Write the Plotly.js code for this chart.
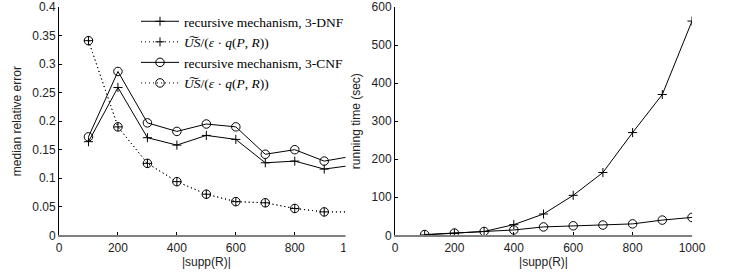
<!DOCTYPE html>
<html>
<head>
<meta charset="utf-8">
<script src="https://cdn.plot.ly/plotly-3.0.1.min.js"></script>
<style>html,body{margin:0;padding:0;background:#fff;}#chart{width:733px;height:275px;}</style>
</head>
<body>
<div id="chart"></div>
<script>
// Data
var suppR = [100, 200, 300, 400, 500, 600, 700, 800, 900, 1000];
var errRecursiveDNF = [0.164, 0.259, 0.171, 0.158, 0.175, 0.168, 0.127, 0.130, 0.116, 0.123];
var errUSDNF = [0.341, 0.190, 0.126, 0.094, 0.072, 0.059, 0.057, 0.047, 0.041, 0.041];
var errRecursiveCNF = [0.1725, 0.287, 0.197, 0.182, 0.195, 0.190, 0.142, 0.150, 0.130, 0.139];
var errUSCNF = [0.341, 0.190, 0.126, 0.094, 0.072, 0.059, 0.057, 0.047, 0.041, 0.041];
var timeDNF = [1, 5, 10, 28, 56, 105, 165, 270, 370, 563];
var timeCNF = [2, 6, 10, 14, 22, 25, 27, 30, 40, 47];
var xTicks = [0, 200, 400, 600, 800, 1000];
var errTicks = [0, 0.05, 0.1, 0.15, 0.2, 0.25, 0.3, 0.35, 0.4];
var errTickText = ['0', '0.05', '0.1', '0.15', '0.2', '0.25', '0.3', '0.35', '0.4'];
var timeTicks = [0, 100, 200, 300, 400, 500, 600];

var usLabel = '<i>U\u0360S</i>/(<i>\u03b5</i> \u00b7 <i>q</i>(<i>P</i>, <i>R</i>))';

function tr(x, y, name, dash, sym, xa, ya, showlegend) {
  return {
    x: x, y: y, name: name, type: 'scatter', mode: 'lines+markers',
    xaxis: xa, yaxis: ya, showlegend: showlegend, cliponaxis: true,
    line: {color: '#000', width: 1, dash: dash},
    marker: {symbol: sym, size: sym === 'circle-open' ? 8.5 : 6.5, color: '#000', line: {color: '#000', width: 1}}
  };
}

var DOT = '1px,3px';
var data = [
  tr(suppR, errRecursiveDNF, 'recursive mechanism, 3-DNF', 'solid', 'cross-thin-open', 'x', 'y', true),
  tr(suppR, errUSDNF, usLabel, DOT, 'cross-thin-open', 'x', 'y', true),
  tr(suppR, errRecursiveCNF, 'recursive mechanism, 3-CNF', 'solid', 'circle-open', 'x', 'y', true),
  tr(suppR, errUSCNF, usLabel, DOT, 'circle-open', 'x', 'y', true),
  tr(suppR, timeDNF, 'DNF time', 'solid', 'cross-thin-open', 'x2', 'y2', false),
  tr(suppR, timeCNF, 'CNF time', 'solid', 'circle-open', 'x2', 'y2', false)
];

var tickFont = {family: 'Liberation Sans, Arial, sans-serif', size: 12, color: '#222'};
function xax(domain, anchor) {
  return {
    domain: domain, anchor: anchor, range: [0, 1000], tickvals: xTicks,
    ticks: 'inside', ticklen: 3, tickcolor: '#000', tickwidth: 1,
    showline: true, linecolor: '#808080', linewidth: 2,
    showgrid: false, zeroline: false, tickfont: tickFont, ticklabeloverflow: 'allow',
    title: {text: '|supp(R)|', font: tickFont, standoff: 0}
  };
}
function yax(anchor, range, tickvals, ticktext, title) {
  var a = {
    domain: [1 - 235.3 / 275, 1 - 7 / 275], anchor: anchor, range: range, tickvals: tickvals,
    ticks: 'inside', ticklen: 3, tickcolor: '#000',
    showline: true, linecolor: '#000', linewidth: 1,
    showgrid: false, zeroline: false, tickfont: tickFont, ticklabeloverflow: 'allow',
    title: {text: title, font: tickFont, standoff: 8}
  };
  if (ticktext) a.ticktext = ticktext;
  return a;
}
var layout = {
  width: 733, height: 275,
  margin: {l: 0, r: 0, t: 0, b: 0},
  paper_bgcolor: '#fff', plot_bgcolor: '#fff',
  showlegend: true,
  xaxis: xax([59 / 733, 353.7 / 733], 'y'),
  xaxis2: xax([395 / 733, 692 / 733], 'y2'),
  yaxis: yax('x', [0, 0.4], errTicks, errTickText, 'median relative error'),
  yaxis2: yax('x2', [0, 600], timeTicks, null, 'running time (sec)'),
  legend: {
    x: 136 / 733, y: 1 - 6 / 275, xanchor: 'left', yanchor: 'top',
    bgcolor: 'rgba(0,0,0,0)', borderwidth: 0,
    font: {family: 'Liberation Serif, Times New Roman, serif', size: 13.5, color: '#000'},
    itemwidth: 38, tracegroupgap: 0
  },
  shapes: [{
    type: 'rect', xref: 'paper', yref: 'paper',
    x0: 345.5 / 733, x1: 368 / 733, y0: 0, y1: 1,
    fillcolor: '#fff', line: {width: 0}, layer: 'above'
  }]
};

Plotly.newPlot('chart', data, layout, {staticPlot: true, displayModeBar: false});
</script>
</body>
</html>
